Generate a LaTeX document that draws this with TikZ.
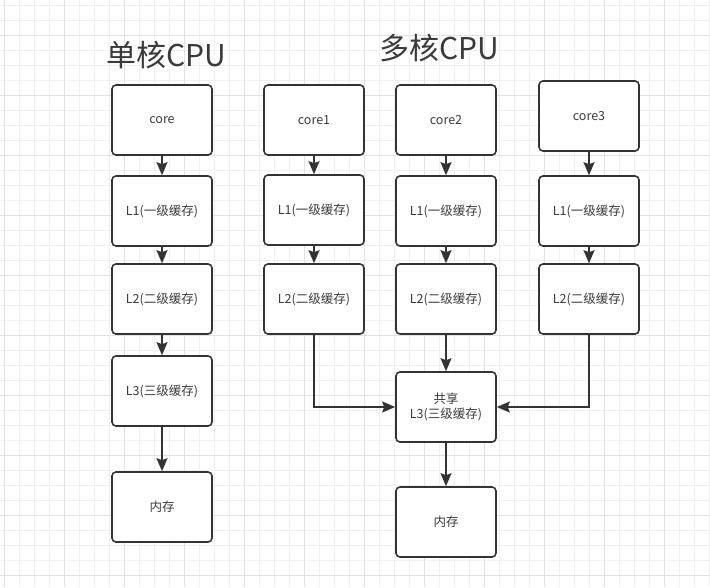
\documentclass[tikz,border=0pt]{standalone}
\usepackage{fontspec}
\newfontfamily\cjk{Noto Sans CJK SC}
\usetikzlibrary{arrows.meta}
\definecolor{ink}{HTML}{333333}
\definecolor{txt}{HTML}{3A3A3A}
\definecolor{gridthin}{HTML}{F0F0F0}
\definecolor{gridthick}{HTML}{E2E2E2}
\tikzset{
  cachebox/.style={draw=ink, fill=white, line width=1.6pt, rounded corners=4pt,
    minimum width=100pt, minimum height=70pt, inner sep=0pt,
    font=\cjk\fontsize{12.5pt}{15pt}\selectfont, text=txt, align=center},
  titletext/.style={font=\cjk\fontsize{30pt}{35pt}\selectfont, text=txt, inner sep=0pt},
  arr/.style={draw=ink, line width=1.6pt, -{Stealth[length=13pt,width=11pt,inset=2pt]}}
}
\begin{document}
\begin{tikzpicture}[x=1pt,y=-1pt]
\useasboundingbox (0,0) rectangle (710,587);
\fill[white] (0,0) rectangle (710,587);
% grid
\foreach \i in {0,...,47} {\draw[gridthin, line width=1pt] ({4+15*\i},0) -- ({4+15*\i},587);}
\foreach \j in {0,...,38} {\draw[gridthin, line width=1pt] (0,{5+15*\j}) -- (710,{5+15*\j});}
\foreach \i in {0,...,11} {\draw[gridthick, line width=1pt] ({4+60*\i},0) -- ({4+60*\i},587);}
\foreach \j in {0,...,9} {\draw[gridthick, line width=1pt] (0,{35+60*\j}) -- (710,{35+60*\j});}

% titles
\node[titletext] (t1) at (166,55) {单核CPU};
\node[titletext] (t2) at (439,48) {多核CPU};

% single core
\node[cachebox] (sc) at (162,120) {core};
\node[cachebox] (s1) at (162,211) {L1(一级缓存)};
\node[cachebox] (s2) at (162,299) {L2(二级缓存)};
\node[cachebox] (s3) at (162,391) {L3(三级缓存)};
\node[cachebox] (sm) at (162,507) {内存};

% multi core
\node[cachebox] (ac) at (314,120) {core1};
\node[cachebox] (a1) at (314,210) {L1(一级缓存)};
\node[cachebox] (a2) at (314,299) {L2(二级缓存)};
\node[cachebox] (bc) at (446,120) {core2};
\node[cachebox] (b1) at (446,211) {L1(一级缓存)};
\node[cachebox] (b2) at (446,299) {L2(二级缓存)};
\node[cachebox] (cc) at (589,116) {core3};
\node[cachebox] (c1) at (589,211) {L1(一级缓存)};
\node[cachebox] (c2) at (589,299) {L2(二级缓存)};
\node[cachebox] (ml3) at (446,407) {共享\\L3(三级缓存)};
\node[cachebox] (mm) at (446,522) {内存};

% connectors
\draw[arr] (sc) -- (s1);
\draw[arr] (s1) -- (s2);
\draw[arr] (s2) -- (s3);
\draw[arr] (s3) -- (sm);
\draw[arr] (ac) -- (a1);
\draw[arr] (a1) -- (a2);
\draw[arr] (bc) -- (b1);
\draw[arr] (b1) -- (b2);
\draw[arr] (cc) -- (c1);
\draw[arr] (c1) -- (c2);
\draw[arr] (b2) -- (ml3);
\draw[arr] (a2) |- (ml3);
\draw[arr] (c2) |- (ml3);
\draw[arr] (ml3) -- (mm);
\end{tikzpicture}
\end{document}
